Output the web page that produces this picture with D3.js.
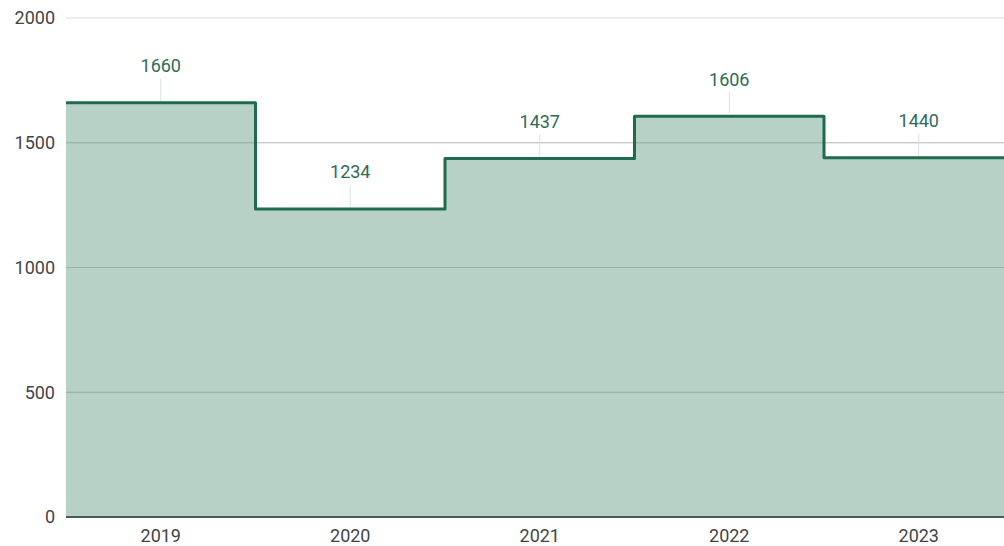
<html lang="en">
<head>
<style>
	body { margin: 0; background: #fff; }
	text { font-family: Roboto, "Noto Sans", sans-serif; }
</style>
</head>
<body>
<svg width="1004" height="546"></svg>
<script src="https://d3js.org/d3.v7.min.js"></script>
<script>
	var years = ["2019", "2020", "2021", "2022", "2023"];
	var values = [1660, 1234, 1437, 1606, 1440];
	var yTicks = [0, 500, 1000, 1500, 2000];

	var svg = d3.select("svg");
	var plotLeft = 66, plotRight = 1013.5, plotTop = 18, plotBottom = 517;

	var x = d3.scaleBand().domain(years).range([plotLeft, plotRight]).padding(0);
	var y = d3.scaleLinear().domain([0, 2000]).range([plotBottom, plotTop]);

	// points for step curve, with one extra point closing the last band
	var pts = years.map(function(d, i) { return [x(d), values[i]]; });
	pts.push([x(years[years.length - 1]) + x.bandwidth(), values[values.length - 1]]);

	// grid behind the area
	svg.append("g")
	.selectAll("line")
	.data(yTicks.slice(1))
	.enter().append("line")
	.attr("x1", plotLeft).attr("x2", 1004)
	.attr("y1", function(d) { return y(d); })
	.attr("y2", function(d) { return y(d); })
	.attr("stroke", "#dadada")
	.attr("stroke-width", 1);

	var area = d3.area()
	.curve(d3.curveStepAfter)
	.x(function(d) { return d[0]; })
	.y0(y(0))
	.y1(function(d) { return y(d[1]); });

	var line = d3.line()
	.curve(d3.curveStepAfter)
	.x(function(d) { return d[0]; })
	.y(function(d) { return y(d[1]); });

	svg.append("path")
	.attr("d", area(pts))
	.attr("fill", "#1b6b4a")
	.attr("fill-opacity", 0.31);

	// grid lines showing through the fill
	svg.append("g")
	.selectAll("line")
	.data(yTicks.slice(1, 4))
	.enter().append("line")
	.attr("x1", plotLeft).attr("x2", 1004)
	.attr("y1", function(d) { return y(d); })
	.attr("y2", function(d) { return y(d); })
	.attr("stroke", "#8fa8a0")
	.attr("stroke-width", 1)
	.attr("stroke-opacity", 0.5);

	svg.append("path")
	.attr("d", line(pts))
	.attr("fill", "none")
	.attr("stroke", "#1e6b4d")
	.attr("stroke-width", 3)
	.attr("stroke-linejoin", "round");

	// baseline
	svg.append("line")
	.attr("x1", plotLeft).attr("x2", 1004)
	.attr("y1", y(0)).attr("y2", y(0))
	.attr("stroke", "#4d5a55")
	.attr("stroke-width", 2);

	// y tick labels
	svg.append("g")
	.selectAll("text")
	.data(yTicks)
	.enter().append("text")
	.attr("x", 55)
	.attr("y", function(d) { return y(d); })
	.attr("dy", "0.35em")
	.attr("text-anchor", "end")
	.attr("font-size", "18px")
	.attr("fill", "#444")
	.text(function(d) { return d; });

	// x tick labels
	svg.append("g")
	.selectAll("text")
	.data(years)
	.enter().append("text")
	.attr("x", function(d) { return x(d) + x.bandwidth() / 2; })
	.attr("y", 536)
	.attr("dy", "0.35em")
	.attr("text-anchor", "middle")
	.attr("font-size", "18px")
	.attr("fill", "#444")
	.text(function(d) { return d; });

	// value labels with leader lines
	var lab = svg.append("g")
	.selectAll("g")
	.data(values)
	.enter().append("g");

	lab.append("line")
	.attr("x1", function(d, i) { return x(years[i]) + x.bandwidth() / 2; })
	.attr("x2", function(d, i) { return x(years[i]) + x.bandwidth() / 2; })
	.attr("y1", function(d) { return y(d) - 24; })
	.attr("y2", function(d) { return y(d) - 2; })
	.attr("stroke", "#d6e4df")
	.attr("stroke-width", 1);

	lab.append("text")
	.attr("x", function(d, i) { return x(years[i]) + x.bandwidth() / 2; })
	.attr("y", function(d) { return y(d) - 37; })
	.attr("dy", "0.35em")
	.attr("text-anchor", "middle")
	.attr("font-size", "18px")
	.attr("fill", "#2f6b57")
	.text(function(d) { return d; });
</script>
</body>
</html>
